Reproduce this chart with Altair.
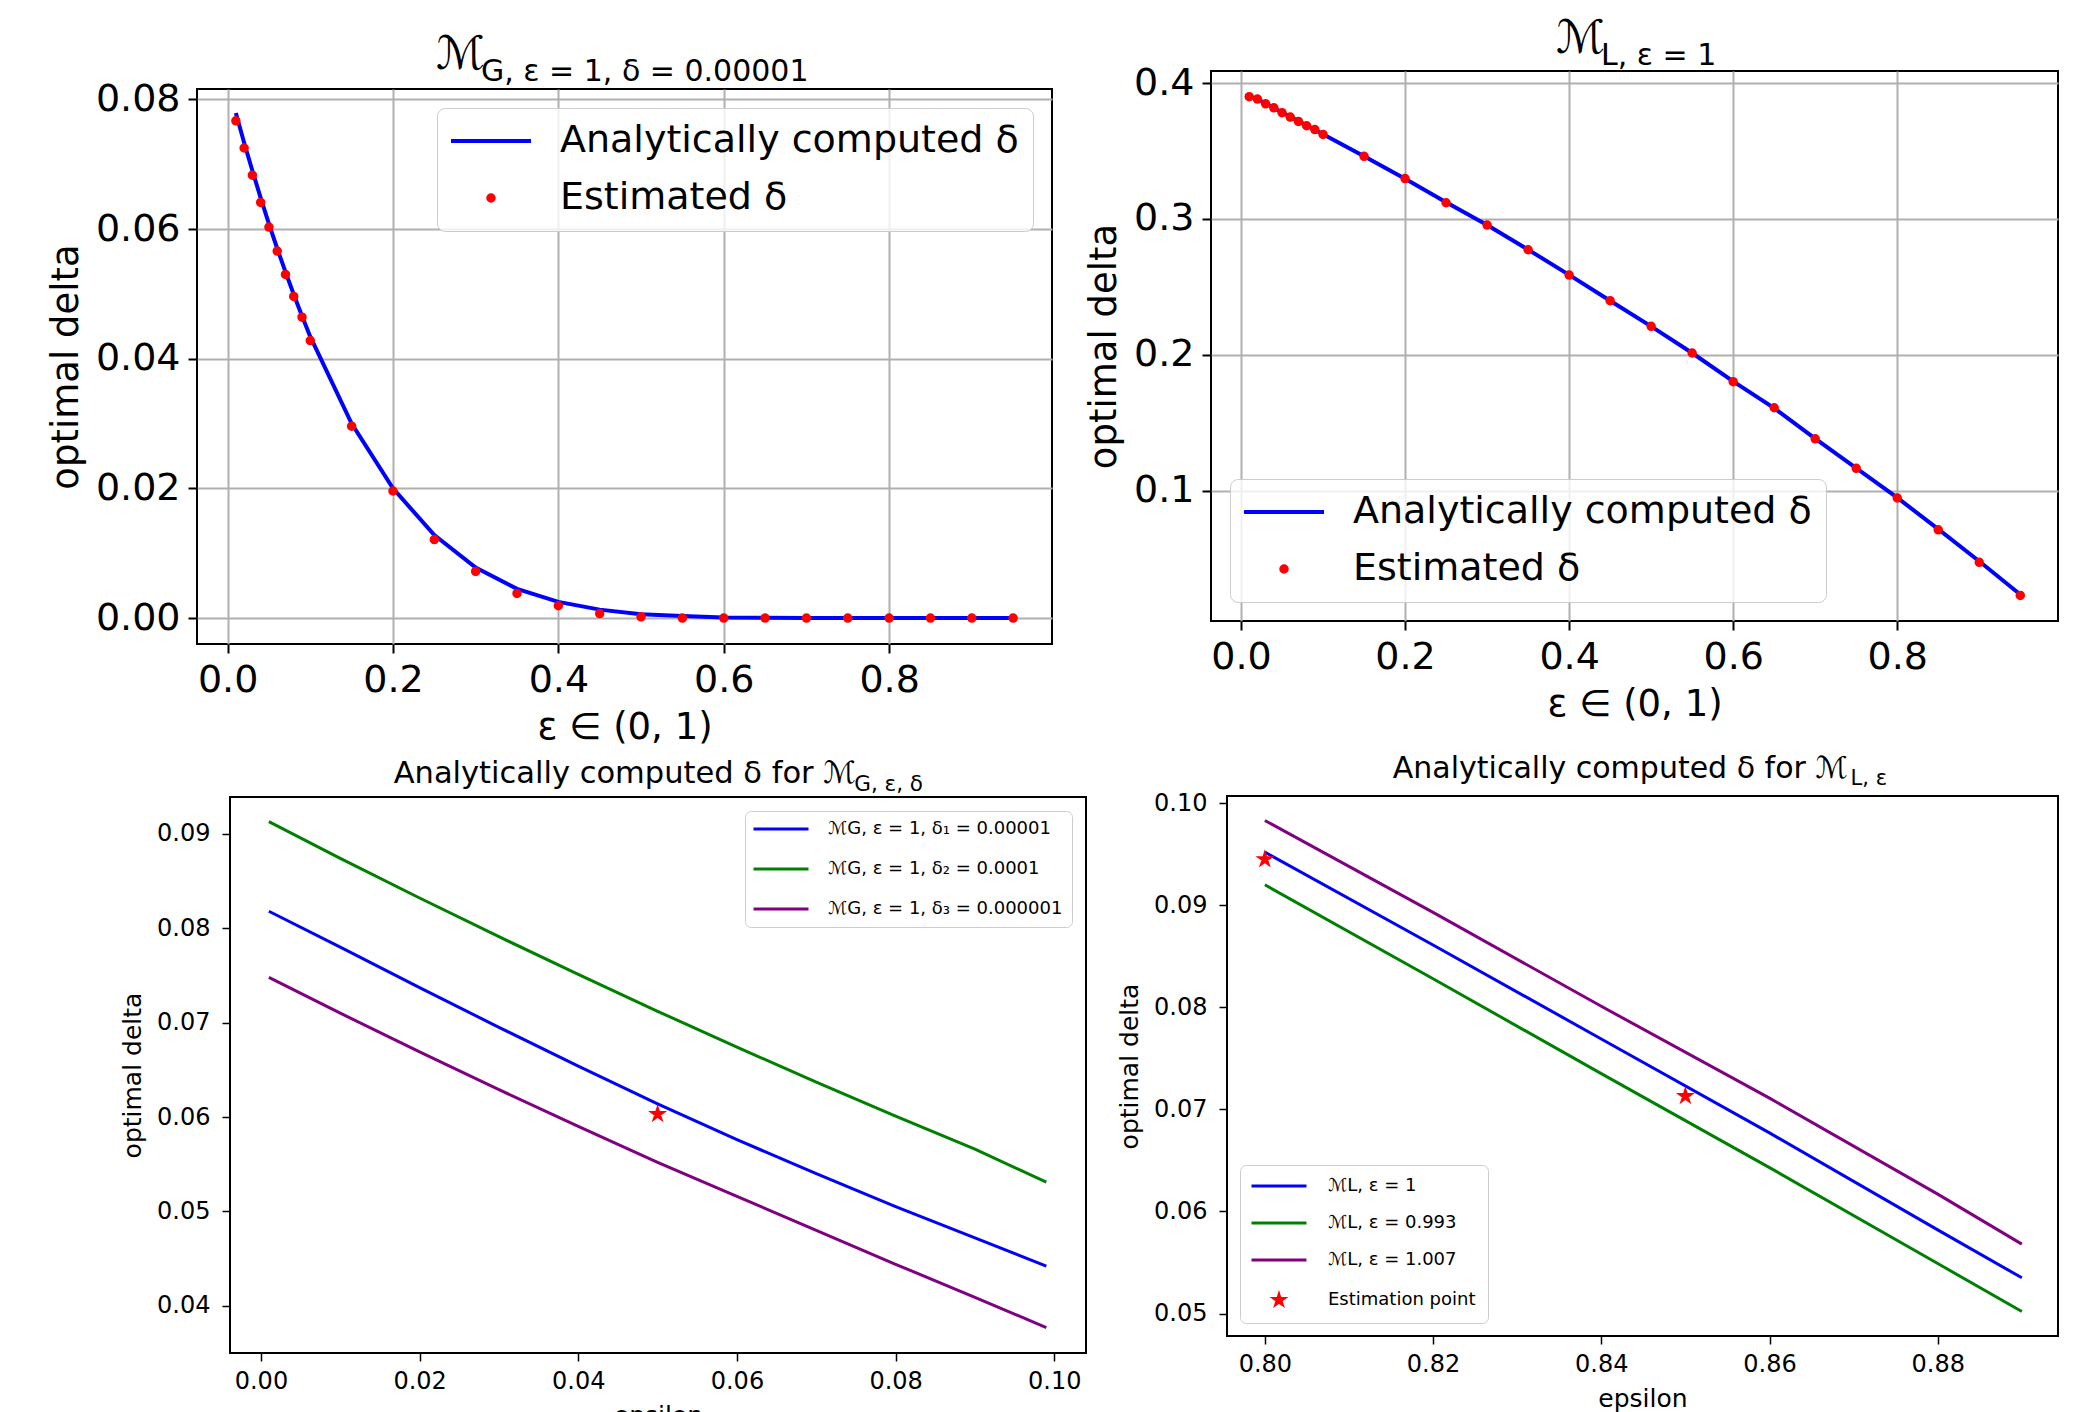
import math
import altair as alt
import pandas as pd

# ---------------- data ----------------
eps_top = [0.01, 0.02, 0.03, 0.04, 0.05, 0.06, 0.07, 0.08, 0.09, 0.10,
           0.15, 0.20, 0.25, 0.30, 0.35, 0.40, 0.45, 0.50, 0.55, 0.60,
           0.65, 0.70, 0.75, 0.80, 0.85, 0.90, 0.95]

tl_analytic = [0.0779, 0.0733, 0.0690, 0.0648, 0.0608, 0.0570, 0.0534, 0.0499, 0.0466, 0.0434,
               0.0300, 0.0200, 0.0128, 0.0078, 0.0045, 0.0025, 0.0013, 0.0006, 0.0003, 0.0001,
               0.00005, 0.00002, 0.00001, 0.0, 0.0, 0.0, 0.0]
tl_estimated = [0.0767, 0.0725, 0.0683, 0.0641, 0.0603, 0.0566, 0.0530, 0.0496, 0.0464, 0.0428,
                0.0296, 0.0196, 0.0121, 0.0072, 0.0038, 0.0019, 0.0007, 0.0002, 0.0, 0.0,
                0.0, 0.0, 0.0, 0.0, 0.0, 0.0, 0.0]

tr_analytic = [0.3902, 0.3882, 0.3849, 0.3818, 0.3784, 0.3752, 0.3720, 0.3688, 0.3656, 0.3624,
               0.3462, 0.3296, 0.3122, 0.2955, 0.2774, 0.2588, 0.2398, 0.2209, 0.2013, 0.1804,
               0.1607, 0.1383, 0.1166, 0.0948, 0.0716, 0.0480, 0.0235]
tr_estimated = [0.3900, 0.3882, 0.3847, 0.3818, 0.3782, 0.3750, 0.3718, 0.3686, 0.3658, 0.3622,
                0.3461, 0.3297, 0.3119, 0.2955, 0.2773, 0.2587, 0.2398, 0.2209, 0.2013, 0.1802,
                0.1610, 0.1381, 0.1164, 0.0946, 0.0711, 0.0472, 0.0228]

eps_bl = [0.001, 0.01, 0.02, 0.03, 0.04, 0.05, 0.06, 0.07, 0.08, 0.09, 0.099]
bl_delta1 = [0.0818, 0.0780, 0.0737, 0.0695, 0.0654, 0.0614, 0.0576, 0.0540, 0.0505, 0.0472, 0.0442]
bl_delta2 = [0.0913, 0.0874, 0.0832, 0.0791, 0.0751, 0.0712, 0.0674, 0.0637, 0.0601, 0.0566, 0.0531]
bl_delta3 = [0.0748, 0.0710, 0.0669, 0.0629, 0.0590, 0.0552, 0.0516, 0.0480, 0.0444, 0.0409, 0.0377]
bl_star_eps = [0.05]
bl_star_val = [0.0603]

eps_br = [0.80, 0.82, 0.84, 0.86, 0.88, 0.89]
br_eps1 = [0.0952, 0.0861, 0.0769, 0.0677, 0.0582, 0.0535]
br_eps0993 = [0.0920, 0.0828, 0.0735, 0.0643, 0.0549, 0.0502]
br_eps1007 = [0.0983, 0.0893, 0.0801, 0.0711, 0.0617, 0.0568]
br_star_eps = [0.80, 0.85]
br_star_val = [0.0945, 0.0713]

LBL_A = "Analytically computed δ"
LBL_E = "Estimated δ"
bl_labels = ["ℳG, ε = 1, δ₁ = 0.00001", "ℳG, ε = 1, δ₂ = 0.0001", "ℳG, ε = 1, δ₃ = 0.000001"]
br_labels = ["ℳL, ε = 1", "ℳL, ε = 0.993", "ℳL, ε = 1.007", "Estimation point"]

top_x_ticks = [0.0, 0.2, 0.4, 0.6, 0.8]
tl_y_ticks = [0.0, 0.02, 0.04, 0.06, 0.08]
tr_y_ticks = [0.1, 0.2, 0.3, 0.4]
bl_x_ticks = [0.0, 0.02, 0.04, 0.06, 0.08, 0.10]
bl_y_ticks = [0.04, 0.05, 0.06, 0.07, 0.08, 0.09]
br_x_ticks = [0.80, 0.82, 0.84, 0.86, 0.88]
br_y_ticks = [0.05, 0.06, 0.07, 0.08, 0.09, 0.10]

# ---------------- styling ----------------
FONT = "DejaVu Sans"
BLUE, GREEN, PURPLE, RED = "#0000ff", "#008000", "#800080", "#ff0000"
GRID = "#b0b0b0"
ZW = "\u200b"  # zero-width guard so that the wide spaces are kept

LINE_SYM = "M-4,0H4"  # wide legend stroke (length = 4*sqrt(size))
DOT_SYM = "M-0.275,0A0.275,0.275,0,1,0,0.275,0A0.275,0.275,0,1,0,-0.275,0Z"
star_pts = []
for k in range(10):
    ang = math.radians(-90 + 36 * k)
    r = 0.75 if k % 2 == 0 else 0.75 * 0.382
    star_pts.append((r * math.cos(ang), r * math.sin(ang)))
STAR = "M" + "L".join(f"{x:.3f},{y:.3f}" for x, y in star_pts) + "Z"

IND = dict(color="independent", stroke="independent", shape="independent")

# larger plain-text label for "Estimation point" (used only if the schema accepts it)
br_extra = {}
for enc in (
    {"labels": {"fontSize": {"condition": {"test": "datum.value === 'Estimation point'",
                                           "value": 24}, "value": 18}}},
    {"labels": {"update": {"fontSize": {"signal": "datum.value === 'Estimation point' ? 24 : 18"}}}},
):
    try:
        alt.Chart(pd.DataFrame({"a": ["x"]})).mark_point().encode(
            color=alt.Color("a:N", legend=alt.Legend(encode=enc))).to_dict()
        br_extra = {"encode": enc}
        break
    except Exception:
        continue


def big_axis(title, values, fmt, grid=True):
    return alt.Axis(title=title, values=values, format=fmt, grid=grid, gridColor=GRID,
                    gridWidth=2, labelFontSize=38, titleFontSize=37, tickSize=9,
                    tickWidth=2, labelPadding=8, titlePadding=10)


def small_axis(title, values, fmt, lp=8, tp=10):
    return alt.Axis(title=title, values=values, format=fmt, grid=False,
                    labelFontSize=24, titleFontSize=25, tickSize=8,
                    tickWidth=1.5, labelPadding=lp, titlePadding=tp)


def top_panel(analytic, estimated, xdom, ydom, yticks, yfmt, sub, dx,
              legend_orient, legend_offset, width, height):
    df_line = pd.DataFrame({"eps": eps_top, "delta": analytic, "series": LBL_A})
    df_pts = pd.DataFrame({"eps": eps_top, "delta": estimated, "series": LBL_E})
    dom = [LBL_A, LBL_E]
    leg = alt.Legend(title=None, orient=legend_orient, offset=legend_offset,
                     labelFontSize=38, labelFont=FONT, labelColor="black", labelLimit=2000,
                     symbolSize=400, symbolOffset=21, labelOffset=50, padding=14,
                     rowPadding=19, symbolStrokeWidth=4,
                     strokeColor="#cccccc", fillColor="rgba(255,255,255,0.8)",
                     cornerRadius=8)
    color = alt.Color("series:N", scale=alt.Scale(domain=dom, range=[BLUE, RED]), legend=leg)
    x = alt.X("eps:Q", scale=alt.Scale(domain=xdom, nice=False, zero=False),
              axis=big_axis("ε ∈ (0, 1)", top_x_ticks, ".1f"))
    y = alt.Y("delta:Q", scale=alt.Scale(domain=ydom, nice=False, zero=False),
              axis=big_axis("optimal delta", yticks, yfmt))
    line = alt.Chart(df_line).mark_line(strokeWidth=4).encode(x=x, y=y, color=color)
    pts = alt.Chart(df_pts).mark_point(filled=True, opacity=1, strokeWidth=4, size=400).encode(
        x=x, y=y, color=color,
        stroke=alt.Stroke("series:N", scale=alt.Scale(domain=dom, range=[BLUE, RED]), legend=leg),
        shape=alt.Shape("series:N", scale=alt.Scale(domain=dom, range=[LINE_SYM, DOT_SYM]),
                        legend=leg),
    )
    return alt.layer(line, pts).properties(
        width=width, height=height,
        title=alt.Title(text="ℳ", subtitle=sub, anchor="start", align="left", frame="group",
                        dx=dx, fontSize=46, subtitleFontSize=30, subtitlePadding=-22,
                        offset=-8, font=FONT, subtitleFont=FONT, fontWeight="normal",
                        color="black", subtitleColor="black"),
    )


tl = top_panel(tl_analytic, tl_estimated, [-0.037, 0.997], [-0.0040, 0.0816], tl_y_ticks, ".2f",
               ZW + "\u2003\u2002G, ε = 1, δ = 0.00001", 239, "top-right", 19, 855, 555)
tr = top_panel(tr_analytic, tr_estimated, [-0.0366, 0.9960], [0.0040, 0.4089], tr_y_ticks, ".1f",
               ZW + "\u2003\u2002L, ε = 1", 345, "bottom-left", 19, 847, 550)

# ---- bottom left ----
bl_rows = []
for lab, vals in zip(bl_labels, [bl_delta1, bl_delta2, bl_delta3]):
    for e, v in zip(eps_bl, vals):
        bl_rows.append({"eps": e, "delta": v, "series": lab})
df_bl = pd.DataFrame(bl_rows)
df_bl_star = pd.DataFrame({"eps": bl_star_eps, "delta": bl_star_val})
bl_x = alt.X("eps:Q", scale=alt.Scale(domain=[-0.0039, 0.1040], nice=False, zero=False),
             axis=small_axis("epsilon", bl_x_ticks, ".2f"))
bl_y = alt.Y("delta:Q", scale=alt.Scale(domain=[0.0350, 0.0939], nice=False, zero=False),
             axis=small_axis("optimal delta", bl_y_ticks, ".2f", lp=12, tp=11))
bl_leg = alt.Legend(title=None, orient="top-right", offset=14, labelFontSize=18, labelFont=FONT,
                    labelColor="black", labelLimit=2000, symbolType=LINE_SYM, symbolSize=189,
                    symbolOffset=18, labelOffset=38, padding=9, rowPadding=22,
                    symbolStrokeWidth=3, strokeColor="#cccccc",
                    fillColor="rgba(255,255,255,0.8)", cornerRadius=6)
bl_lines = alt.Chart(df_bl).mark_line(strokeWidth=3).encode(
    x=bl_x, y=bl_y,
    color=alt.Color("series:N", scale=alt.Scale(domain=bl_labels, range=[BLUE, GREEN, PURPLE]),
                    legend=bl_leg),
)
bl_star = alt.Chart(df_bl_star).mark_point(shape=STAR, filled=True, fill=RED, stroke=RED,
                                           strokeWidth=3, size=189, opacity=1).encode(x=bl_x, y=bl_y)
bl = alt.layer(bl_lines, bl_star).properties(
    width=856, height=556,
    title=alt.Title(text="Analytically computed δ for ℳ\u2003\u2003\u2009" + ZW, subtitle="G, ε, δ",
                    anchor="end", align="right", frame="group", dx=-163, fontSize=30.5,
                    subtitleFontSize=21.5, subtitlePadding=-16, offset=2, font=FONT,
                    subtitleFont=FONT, fontWeight="normal", color="black",
                    subtitleColor="black"),
)

# ---- bottom right ----
br_rows = []
for lab, vals in zip(br_labels[:3], [br_eps1, br_eps0993, br_eps1007]):
    for e, v in zip(eps_br, vals):
        br_rows.append({"eps": e, "delta": v, "series": lab})
df_br = pd.DataFrame(br_rows)
df_br_star = pd.DataFrame({"eps": br_star_eps, "delta": br_star_val, "series": br_labels[3]})
br_x = alt.X("eps:Q", scale=alt.Scale(domain=[0.7955, 0.8943], nice=False, zero=False),
             axis=small_axis("epsilon", br_x_ticks, ".2f"))
br_y = alt.Y("delta:Q", scale=alt.Scale(domain=[0.0478, 0.1007], nice=False, zero=False),
             axis=small_axis("optimal delta", br_y_ticks, ".2f", lp=12, tp=11))
br_leg = alt.Legend(title=None, orient="bottom-left", offset=13, labelFontSize=18, labelFont=FONT,
                    labelColor="black", labelLimit=2000, symbolSize=189, symbolOffset=18,
                    labelOffset=40, padding=12, rowPadding=19, symbolStrokeWidth=3,
                    strokeColor="#cccccc", fillColor="rgba(255,255,255,0.8)", cornerRadius=6,
                    **br_extra)
br_cols = [BLUE, GREEN, PURPLE, RED]
br_color = alt.Color("series:N", scale=alt.Scale(domain=br_labels, range=br_cols), legend=br_leg)
br_lines = alt.Chart(df_br).mark_line(strokeWidth=3).encode(x=br_x, y=br_y, color=br_color)
br_star = alt.Chart(df_br_star).mark_point(filled=True, opacity=1, strokeWidth=3, size=189).encode(
    x=br_x, y=br_y, color=br_color,
    stroke=alt.Stroke("series:N", scale=alt.Scale(domain=br_labels, range=br_cols), legend=br_leg),
    shape=alt.Shape("series:N", scale=alt.Scale(domain=br_labels,
                                                range=[LINE_SYM, LINE_SYM, LINE_SYM, STAR]),
                    legend=br_leg),
)
br = alt.layer(br_lines, br_star).properties(
    width=831, height=540,
    title=alt.Title(text="Analytically computed δ for ℳ\u2003\u00a0" + ZW, subtitle="L, ε",
                    anchor="end", align="right", frame="group", dx=-171, fontSize=30,
                    subtitleFontSize=21, subtitlePadding=-16, offset=2, font=FONT,
                    subtitleFont=FONT, fontWeight="normal", color="black",
                    subtitleColor="black"),
)

# ---------------- layout ----------------
spacer_df = pd.DataFrame({"v": [0.5]})


def spacer(w, h):
    return alt.Chart(spacer_df).mark_point(size=1, opacity=0).encode(
        x=alt.X("v:Q", axis=None, scale=alt.Scale(domain=[0, 1])),
        y=alt.Y("v:Q", axis=None, scale=alt.Scale(domain=[0, 1])),
    ).properties(width=w, height=h,
                 view=alt.ViewBackground(stroke="transparent", strokeWidth=0))


def place(panel, dx, dy):
    return alt.concat(spacer(dx, dy), spacer(1, dy), spacer(dx, 1), panel,
                      columns=2, spacing=0, bounds="flush", align="each"
                      ).resolve_scale(**IND).resolve_legend(**IND)


chart = alt.concat(
    place(tl, 189, 81), place(tr, 203, 63),
    place(bl, 222, 89), place(br, 219, 88),
    columns=2, spacing={"row": 700, "column": 1000}, bounds="flush", align="each",
).resolve_scale(**IND).resolve_legend(**IND).properties(
    padding=0
).configure(font=FONT).configure_view(stroke="black", strokeWidth=2).configure_axis(
    labelFont=FONT, titleFont=FONT, labelColor="black", titleColor="black",
    tickColor="black", titleFontWeight="normal", domain=False,
).configure_legend(labelFont=FONT)

chart.save("out.html", embed_options={"renderer": "svg", "actions": False})
